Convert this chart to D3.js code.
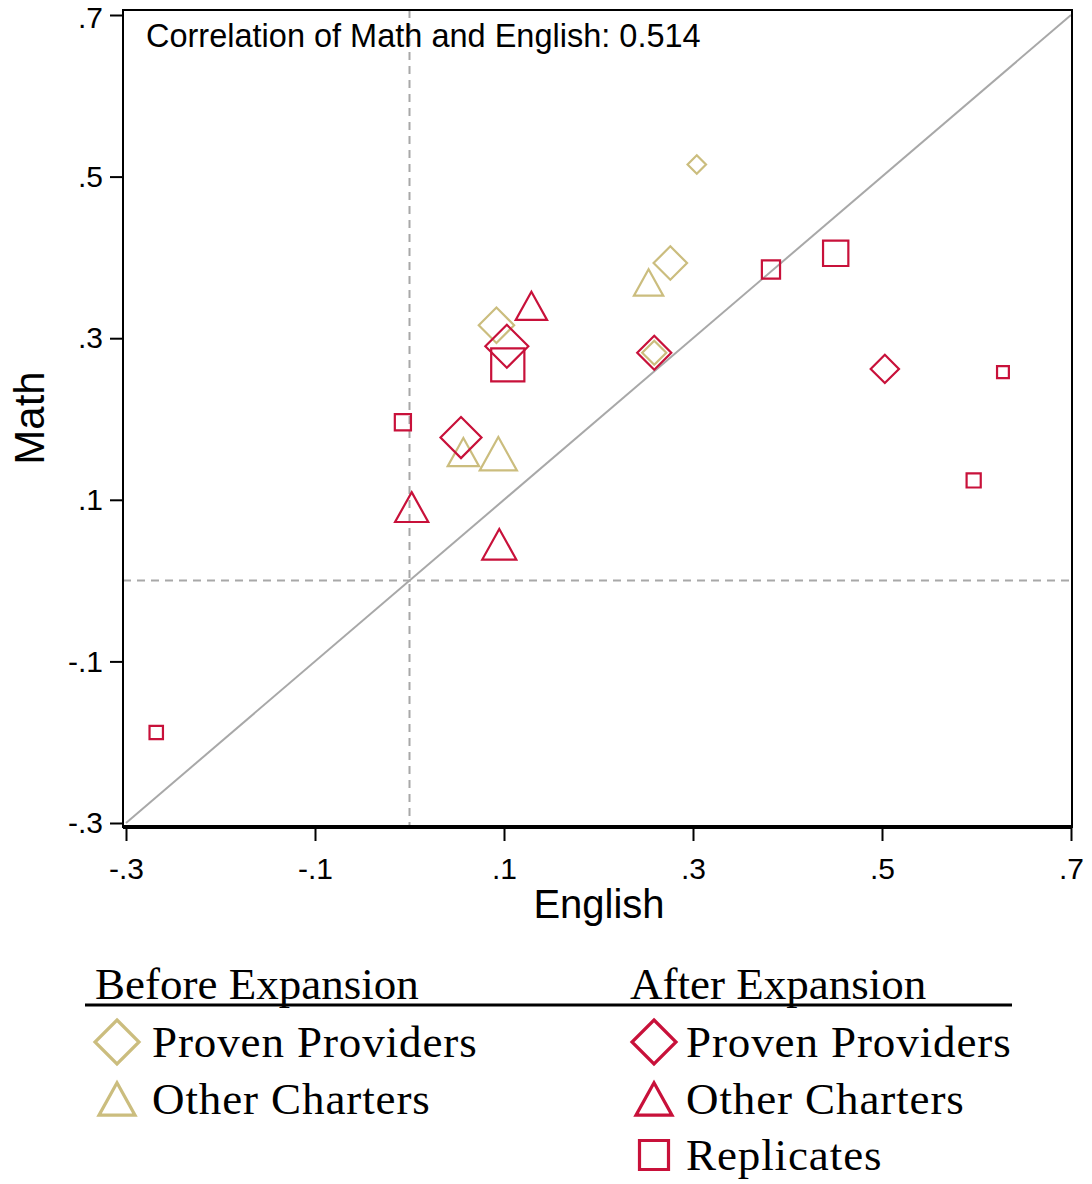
<!DOCTYPE html>
<html>
<head>
<meta charset="utf-8">
<script src="https://cdn.jsdelivr.net/npm/d3@7"></script>
<style>
  html, body { margin: 0; padding: 0; background: #fff; }
  svg { display: block; }
</style>
</head>
<body>
<svg id="chart" width="1092" height="1184"></svg>
<script>
// ---------- DATA ----------
const tickValues = [-0.3, -0.1, 0.1, 0.3, 0.5, 0.7];
const tickLabels = ["-.3", "-.1", ".1", ".3", ".5", ".7"];
const xTitle = "English";
const yTitle = "Math";
const note = "Correlation of Math and English: 0.514";

// Before expansion – Proven Providers (English, Math, weight)
const beforeProvenEnglish = [0.092, 0.276, 0.259, 0.304];
const beforeProvenMath    = [0.316, 0.393, 0.282, 0.515];
const beforeProvenWeight  = [12.5, 11.2, 5.8, 3.4];

// Before expansion – Other Charters
const beforeOtherEnglish = [0.253, 0.057, 0.094];
const beforeOtherMath    = [0.369, 0.159, 0.157];
const beforeOtherWeight  = [8.6, 9.8, 13.8];

// After expansion – Proven Providers
const afterProvenEnglish = [0.103, 0.259, 0.0545, 0.503];
const afterProvenMath    = [0.290, 0.282, 0.177, 0.262];
const afterProvenWeight  = [18.5, 11.6, 16.8, 8.0];

// After expansion – Other Charters
const afterOtherEnglish = [0.129, 0.0023, 0.095];
const afterOtherMath    = [0.340, 0.091, 0.045];
const afterOtherWeight  = [9.8, 11.0, 11.6];

// After expansion – Replicates
const replicatesEnglish = [0.104, -0.007, 0.3825, 0.451, 0.628, 0.597, -0.268];
const replicatesMath    = [0.267, 0.196, 0.385, 0.405, 0.258, 0.124, -0.188];
const replicatesWeight  = [11.0, 2.6, 3.3, 6.4, 1.4, 2.0, 1.8];

const legendHeadings = ["Before Expansion", "After Expansion"];
const legendBefore = ["Proven Providers", "Other Charters"];
const legendAfter = ["Proven Providers", "Other Charters", "Replicates"];

// ---------- STYLE ----------
const GOLD = "#cbbd7e";
const RED = "#c8113a";
const sansFont = "'Liberation Sans', Arial, sans-serif";
const serifFont = "'Liberation Serif', 'Times New Roman', serif";

const series = [
  { shape: "diamond",  color: GOLD, xs: beforeProvenEnglish, ys: beforeProvenMath, ws: beforeProvenWeight },
  { shape: "triangle", color: GOLD, xs: beforeOtherEnglish,  ys: beforeOtherMath,  ws: beforeOtherWeight },
  { shape: "diamond",  color: RED,  xs: afterProvenEnglish,  ys: afterProvenMath,  ws: afterProvenWeight },
  { shape: "triangle", color: RED,  xs: afterOtherEnglish,   ys: afterOtherMath,   ws: afterOtherWeight },
  { shape: "square",   color: RED,  xs: replicatesEnglish,   ys: replicatesMath,   ws: replicatesWeight }
];

function shapePath(type, w) {
  const h = w / 2;
  if (type === "diamond") return `M0,${-h}L${h},0L0,${h}L${-h},0Z`;
  if (type === "square") return `M${-h},${-h}L${h},${-h}L${h},${h}L${-h},${h}Z`;
  const th = w * 0.9 / 2;
  return `M0,${-th}L${h},${th}L${-h},${th}Z`;
}

// ---------- CHART ----------
const svg = d3.select("#chart");

const x = d3.scaleLinear().domain([-0.3, 0.7]).range([126, 1071]);
const y = d3.scaleLinear().domain([-0.3, 0.7]).range([823, 15]);
const size = d3.scaleSqrt().domain([0, 1]).range([0, 10]);

const frame = { left: 123, right: 1072, top: 10, bottom: 827 };

// reference lines
svg.append("line")
  .attr("x1", x(0)).attr("x2", x(0))
  .attr("y1", frame.top).attr("y2", frame.bottom)
  .attr("stroke", "#a8a8a8").attr("stroke-width", 2)
  .attr("stroke-dasharray", "8,6");
svg.append("line")
  .attr("x1", frame.left).attr("x2", frame.right)
  .attr("y1", y(0)).attr("y2", y(0))
  .attr("stroke", "#a8a8a8").attr("stroke-width", 2)
  .attr("stroke-dasharray", "8,6");
svg.append("line")
  .attr("x1", x(-0.3)).attr("y1", y(-0.3))
  .attr("x2", x(0.7)).attr("y2", y(0.7))
  .attr("stroke", "#a8a8a8").attr("stroke-width", 2);

// frame
svg.append("rect")
  .attr("x", frame.left).attr("y", frame.top)
  .attr("width", frame.right - frame.left).attr("height", frame.bottom - frame.top)
  .attr("fill", "none").attr("stroke", "#000").attr("stroke-width", 2);

// axes
const xAxis = svg.append("g")
  .attr("transform", `translate(0,${frame.bottom})`)
  .call(d3.axisBottom(x).tickValues(tickValues)
    .tickFormat((d, i) => tickLabels[i]).tickSize(14).tickPadding(17));
xAxis.select(".domain").attr("stroke-width", 4).attr("d", `M${frame.left},0H${frame.right}`);
xAxis.selectAll(".tick line").attr("stroke-width", 2);
xAxis.selectAll("text").attr("font-family", sansFont).attr("font-size", 30).attr("fill", "#000");

const yAxis = svg.append("g")
  .attr("transform", `translate(${frame.left},0)`)
  .call(d3.axisLeft(y).tickValues(tickValues)
    .tickFormat((d, i) => tickLabels[i]).tickSize(13).tickPadding(7));
yAxis.select(".domain").attr("stroke-width", 2).attr("d", `M0,${frame.top}V${frame.bottom}`);
yAxis.selectAll(".tick line").attr("stroke-width", 2);
yAxis.selectAll("text").attr("font-family", sansFont).attr("font-size", 30).attr("fill", "#000");
yAxis.selectAll(".tick").filter(d => d === 0.7).select("text").attr("dy", "0.4em");

// axis titles
svg.append("text")
  .attr("x", 599).attr("y", 918)
  .attr("text-anchor", "middle")
  .attr("font-family", sansFont).attr("font-size", 40)
  .text(xTitle);
svg.append("text")
  .attr("transform", "translate(44,418) rotate(-90)")
  .attr("text-anchor", "middle")
  .attr("font-family", sansFont).attr("font-size", 42)
  .text(yTitle);

// note
svg.append("text")
  .attr("x", 146).attr("y", 47)
  .attr("font-family", sansFont).attr("font-size", 32.5)
  .text(note);

// markers
series.forEach(s => {
  const pts = s.xs.map((v, i) => ({ x: v, y: s.ys[i], w: s.ws[i] }));
  svg.append("g").selectAll("path")
    .data(pts).enter().append("path")
    .attr("transform", d => `translate(${x(d.x)},${y(d.y)})`)
    .attr("d", d => shapePath(s.shape, size(d.w)))
    .attr("fill", "none")
    .attr("stroke", s.color)
    .attr("stroke-width", 2.2)
    .attr("stroke-linejoin", "miter");
});

// ---------- LEGEND ----------
const leg = svg.append("g");
const headX = [95, 630];
headX.forEach((hx, i) => {
  leg.append("text")
    .attr("x", hx).attr("y", 999)
    .attr("font-family", serifFont).attr("font-size", 45)
    .text(legendHeadings[i]);
});
leg.append("line")
  .attr("x1", 85).attr("x2", 1012)
  .attr("y1", 1005).attr("y2", 1005)
  .attr("stroke", "#000").attr("stroke-width", 3);

const rowY = [1042, 1099, 1155];
const legShapes = ["diamond", "triangle", "square"];
const legSizes = { diamond: 44, triangle: 36, square: 29 };

function legendColumn(labels, color, markX, textX) {
  labels.forEach((lab, i) => {
    const shp = legShapes[i];
    leg.append("path")
      .attr("transform", `translate(${markX},${rowY[i]})`)
      .attr("d", shapePath(shp, legSizes[shp]))
      .attr("fill", "none").attr("stroke", color).attr("stroke-width", 3.2);
    leg.append("text")
      .attr("x", textX).attr("y", rowY[i] + 15)
      .attr("font-family", serifFont).attr("font-size", 45)
      .attr("letter-spacing", 0.9)
      .text(lab);
  });
}
legendColumn(legendBefore, GOLD, 117, 152);
legendColumn(legendAfter, RED, 654, 686);
</script>
</body>
</html>
